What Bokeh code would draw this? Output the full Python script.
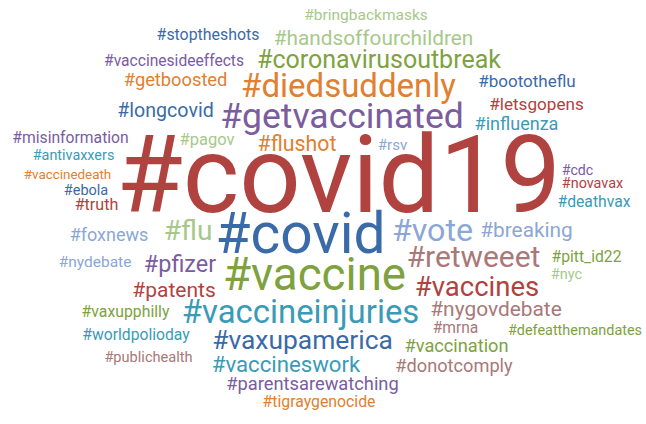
from bokeh.plotting import figure
from bokeh.models import ColumnDataSource, Range1d
from bokeh.core.properties import value
from bokeh.embed import file_html
from bokeh.resources import INLINE

# ---- data: hashtags and their (relative) counts ----
hashtags = [
    "#covid19", "#covid", "#vaccine", "#getvaccinated", "#diedsuddenly",
    "#vaccineinjuries", "#vote", "#retweeet", "#flu", "#vaccines",
    "#vaxupamerica", "#coronavirusoutbreak", "#pfizer", "#vaccineswork", "#flushot",
    "#patents", "#handsoffourchildren", "#breaking", "#nygovdebate", "#longcovid",
    "#getboosted", "#parentsarewatching", "#influenza", "#foxnews", "#vaccination",
    "#donotcomply", "#boototheflu", "#letsgopens", "#pagov", "#truth",
    "#stoptheshots", "#vaxupphilly", "#tigraygenocide", "#misinformation", "#worldpolioday",
    "#deathvax", "#pitt_id22", "#vaccinesideeffects", "#mrna", "#bringbackmasks",
    "#nydebate", "#rsv", "#publichealth", "#ebola", "#nyc",
    "#antivaxxers", "#novavax", "#defeatthemandates", "#cdc", "#vaccinedeath",
]
counts = [
    1030, 542, 436, 339, 315,
    314, 307, 285, 268, 262,
    252, 238, 223, 212, 203,
    200, 198, 198, 199, 187,
    175, 175, 172, 172, 174,
    174, 162, 163, 157, 154,
    152, 151, 151, 150, 150,
    150, 150, 149, 149, 148,
    148, 143, 139, 138, 138,
    137, 137, 137, 135, 128,
]

# ---- layout (word-cloud placement, image pixels: centre x, baseline y) ----
layout_x = [
    338, 300, 314, 341.5, 348,
    300, 432, 473, 187.5, 476.5,
    302, 378.5, 179.5, 285.5, 296.5,
    173.5, 373, 526, 495.5, 165,
    175, 312, 516, 108.5, 456,
    453.5, 526.5, 536, 206.5, 96,
    207.5, 125, 318.5, 70, 135.5,
    593.5, 586, 173.5, 455, 365.5,
    94.5, 392, 148, 85.5, 566,
    73, 592, 574.5, 577, 67,
]
layout_y = [
    213, 253, 290, 128, 97,
    323, 241, 267, 240, 296,
    349, 68, 272, 372, 151,
    297, 45, 237, 316, 117,
    86, 390, 129, 240, 352,
    372, 87, 110, 145, 210,
    40, 317, 407, 143, 340,
    207, 262, 66, 333, 20,
    267, 150, 362, 195, 279,
    160, 188, 335, 175, 179,
]

# ---- styles ----
palette = {
    "red": "#b04240", "blue": "#3b6aa8", "green": "#7ea23e", "orange": "#e08030",
    "purple": "#7a5c9f", "teal": "#3a9bb6", "lightblue": "#8aa7d6",
    "lightgreen": "#a6c98a", "rose": "#a97878",
}
word_colors = [
    "red", "blue", "green", "purple", "orange",
    "teal", "lightblue", "rose", "lightgreen", "red",
    "blue", "green", "purple", "teal", "orange",
    "red", "lightgreen", "lightblue", "rose", "blue",
    "orange", "purple", "teal", "lightblue", "green",
    "rose", "blue", "red", "lightgreen", "red",
    "blue", "green", "orange", "purple", "teal",
    "teal", "green", "purple", "rose", "lightgreen",
    "lightblue", "lightblue", "rose", "blue", "lightgreen",
    "teal", "red", "green", "purple", "orange",
]

MAX_FONT_PX = 108.0
BASELINE_SHIFT_EM = 0.36   # renderer's anchor sits this far above the glyph baseline
max_count = max(counts)
size_px = [MAX_FONT_PX * c / max_count for c in counts]
sizes = ["%.1fpx" % s for s in size_px]
draw_y = [y - BASELINE_SHIFT_EM * s for y, s in zip(layout_y, size_px)]

source = ColumnDataSource(data=dict(
    x=layout_x, y=draw_y, text=hashtags, size=sizes,
    color=[palette[c] for c in word_colors],
))

W, H = 646, 424
p = figure(width=W, height=H, output_backend="svg", toolbar_location=None,
           x_range=Range1d(0, W), y_range=Range1d(H, 0),
           min_border=0, outline_line_color=None, background_fill_color="white")
p.axis.visible = False
p.grid.visible = False

p.text(x="x", y="y", text="text", source=source,
       text_font=value("Roboto"), text_font_size="size", text_line_height=1.0,
       text_color="color", text_align="center", text_baseline="alphabetic")

open("out.html", "w").write(file_html(p, INLINE))
